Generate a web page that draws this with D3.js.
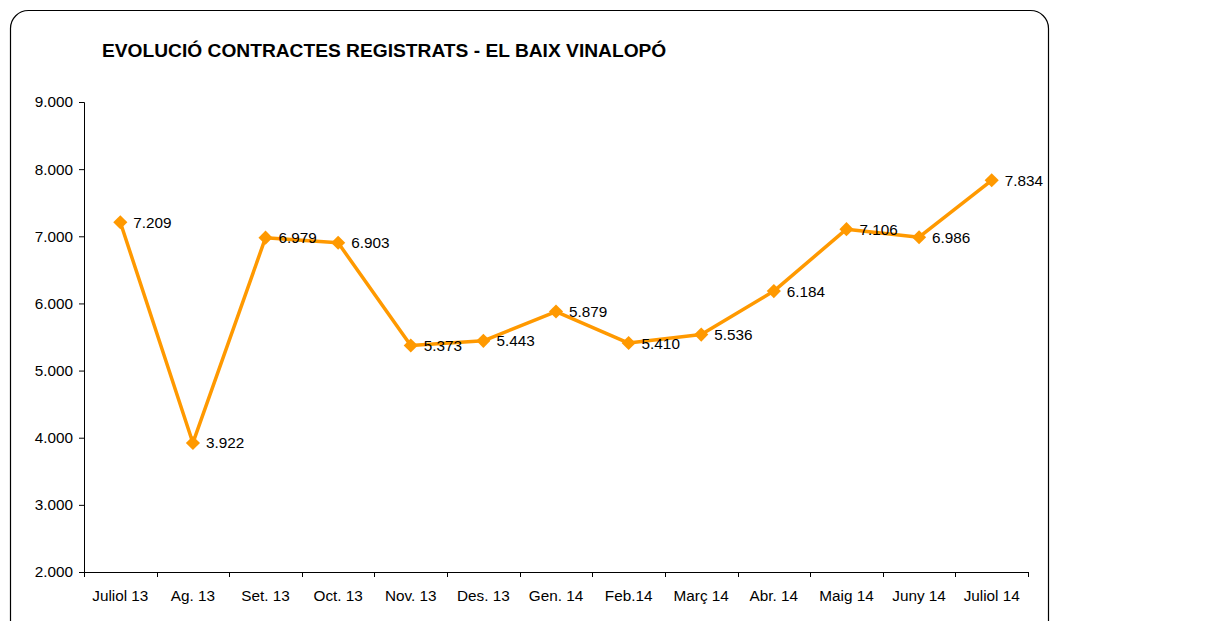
<!DOCTYPE html>
<html>
<head>
<meta charset="utf-8">
<script src="https://cdn.jsdelivr.net/npm/d3@7"></script>
<style>
  html, body { margin: 0; padding: 0; background: #fff; }
  svg { display: block; font-family: Arial, "Liberation Sans", sans-serif; }
</style>
</head>
<body>
<svg id="chart" width="1229" height="621"></svg>
<script>
// Monthly registered contracts, El Baix Vinalopó
const months = ["Juliol 13", "Ag. 13", "Set. 13", "Oct. 13", "Nov. 13", "Des. 13", "Gen. 14",
                "Feb.14", "Març 14", "Abr. 14", "Maig 14", "Juny 14", "Juliol 14"];
const contracts = [7209, 3922, 6979, 6903, 5373, 5443, 5879, 5410, 5536, 6184, 7106, 6986, 7834];
const yTicks = [2000, 3000, 4000, 5000, 6000, 7000, 8000, 9000];
const title = "EVOLUCIÓ CONTRACTES REGISTRATS - EL BAIX VINALOPÓ";

const svg = d3.select("#chart");
const fmt = v => d3.format(",")(v).replace(/,/g, ".");
const labelSize = 15.3;

// outer rounded frame
svg.append("rect")
  .attr("x", 10.5).attr("y", 10.5)
  .attr("width", 1038).attr("height", 640)
  .attr("rx", 18).attr("ry", 18)
  .attr("fill", "#fff").attr("stroke", "#000").attr("stroke-width", 1.2);

svg.append("text")
  .attr("x", 102).attr("y", 57)
  .attr("font-size", 19.2).attr("font-weight", "bold")
  .attr("fill", "#000")
  .text(title);

const plotLeft = 84, plotRight = 1028, plotTop = 102, plotBottom = 572;

const x = d3.scaleBand().domain(months).range([plotLeft, plotRight]).padding(0);
const y = d3.scaleLinear().domain([2000, 9000]).range([plotBottom, plotTop]);

// y axis
const yAxis = d3.axisLeft(y).tickValues(yTicks).tickFormat(fmt).tickSize(5).tickPadding(6);
const gy = svg.append("g").attr("transform", `translate(${plotLeft},0)`).call(yAxis);
gy.select(".domain").attr("stroke", "#000");
gy.selectAll(".tick line").attr("stroke", "#000");
gy.selectAll(".tick text").attr("font-size", labelSize).attr("fill", "#000")
  .attr("font-family", "Arial, 'Liberation Sans', sans-serif");

// x axis with ticks on band boundaries
const gx = svg.append("g").attr("transform", `translate(0,${plotBottom})`);
gx.append("line").attr("x1", plotLeft).attr("x2", plotRight).attr("y1", 0.5).attr("y2", 0.5)
  .attr("stroke", "#000");
const bounds = months.map(m => x(m)).concat([plotRight]);
gx.selectAll("line.tk").data(bounds).enter().append("line")
  .attr("class", "tk")
  .attr("x1", d => Math.round(d) + 0.5).attr("x2", d => Math.round(d) + 0.5)
  .attr("y1", 0).attr("y2", 5).attr("stroke", "#000");
gx.selectAll("text").data(months).enter().append("text")
  .attr("x", d => x(d) + x.bandwidth() / 2)
  .attr("y", 29)
  .attr("text-anchor", "middle")
  .attr("font-size", labelSize).attr("fill", "#000")
  .text(d => d);

// series line
const cx = (d, i) => x(months[i]) + x.bandwidth() / 2;
const line = d3.line().x(cx).y(d => y(d));
svg.append("path")
  .datum(contracts)
  .attr("d", line)
  .attr("fill", "none")
  .attr("stroke", "#FF9900")
  .attr("stroke-width", 3.5)
  .attr("stroke-linejoin", "round");

// diamond markers
svg.selectAll("path.mk").data(contracts).enter().append("path")
  .attr("class", "mk")
  .attr("d", d3.symbol().type(d3.symbolSquare).size(100))
  .attr("transform", (d, i) => `translate(${cx(d, i)},${y(d)}) rotate(45)`)
  .attr("fill", "#FF9900");

// value labels
svg.selectAll("text.val").data(contracts).enter().append("text")
  .attr("class", "val")
  .attr("x", (d, i) => cx(d, i) + 13)
  .attr("y", d => y(d) + 5.5)
  .attr("font-size", labelSize).attr("fill", "#000")
  .text(fmt);
</script>
</body>
</html>
